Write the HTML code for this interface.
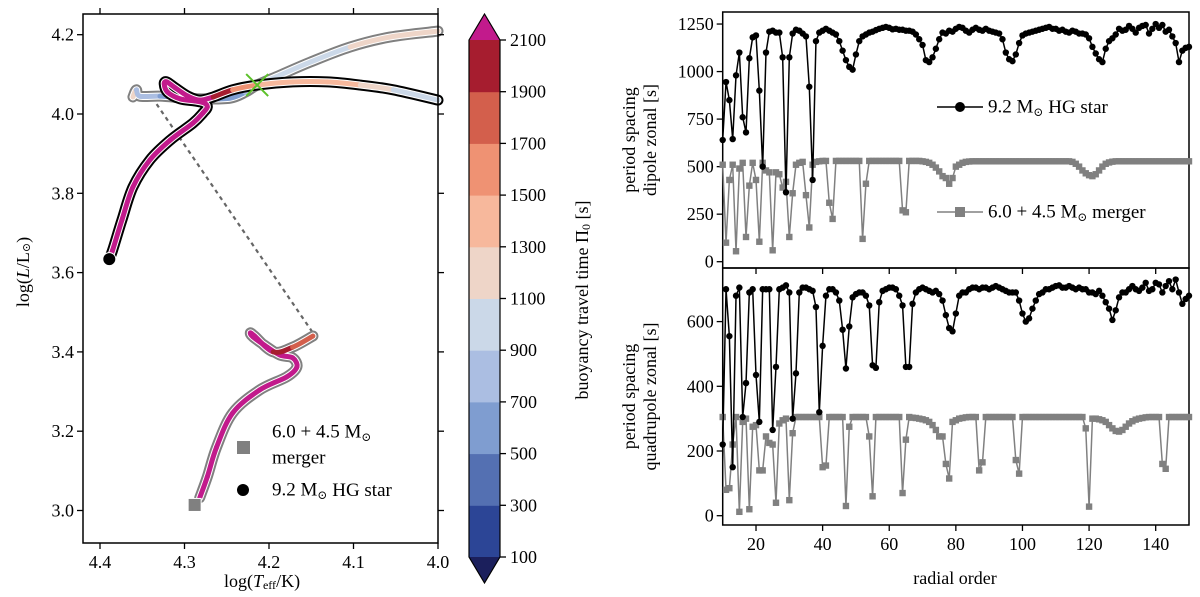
<!DOCTYPE html>
<html><head><meta charset="utf-8"><title>HR diagram and period spacings</title>
<style>
html,body{margin:0;padding:0;background:#fff;}
svg{display:block;font-family:"Liberation Serif","DejaVu Serif",serif;}
text{fill:#000;}
</style></head>
<body>
<svg id="fig" width="1200" height="597" viewBox="0 0 1200 597" xmlns="http://www.w3.org/2000/svg">
<g id="hr"></g>
<g id="cb"></g>
<g id="topPanel"></g>
<g id="botPanel"></g>
</svg>
<script>
// ---------- right panel data ----------
const radialOrderStart = 10;
const dipoleHG = [640,945,850,645,980,1100,760,680,1070,1180,
1190,900,500,1100,1210,1215,1205,1205,1075,365,
1075,1200,1220,1215,1200,1185,920,430,1160,1205,
1215,1225,1215,1205,1195,1160,1110,1060,1025,1010,
1090,1160,1185,1195,1205,1210,1218,1225,1230,1235,
1230,1222,1225,1220,1220,1215,1215,1210,1195,1170,
1140,1060,1050,1075,1120,1170,1205,1200,1215,1210,
1225,1235,1230,1215,1205,1220,1230,1220,1215,1225,
1215,1210,1205,1200,1170,1100,1065,1055,1090,1150,
1190,1200,1205,1210,1215,1220,1225,1230,1235,1225,
1225,1215,1220,1210,1205,1215,1210,1200,1200,1195,
1175,1130,1095,1065,1050,1120,1160,1175,1195,1225,
1215,1220,1240,1225,1205,1230,1240,1245,1200,1225,
1250,1230,1245,1210,1220,1185,1150,1050,1110,1125,
1130];
const dipoleMerger = [510,100,430,510,55,490,520,130,400,520,
430,105,520,480,470,60,470,460,390,420,
130,360,510,520,525,350,180,510,525,528,
530,530,310,225,530,530,530,530,530,530,
530,530,120,410,530,530,530,530,530,530,
530,530,530,530,270,260,530,530,530,530,
528,525,520,510,495,475,450,440,410,440,
500,510,520,525,527,528,528,528,528,528,
528,528,528,528,528,528,528,528,528,528,
528,528,528,528,528,528,528,528,528,528,
528,528,528,528,528,525,515,500,480,465,
455,450,460,480,500,515,522,526,528,528,
528,528,528,528,528,528,528,528,528,528,
528,528,528,528,528,528,528,528,528,528,
528];
const quadHG = [220,700,555,150,680,705,305,410,690,700,
435,290,700,700,700,265,460,700,705,712,
690,300,440,690,705,705,700,695,645,320,
525,680,700,700,690,665,575,455,585,675,
685,690,690,680,650,465,457,660,695,700,
705,705,700,680,650,460,460,655,690,700,
705,700,695,690,695,685,665,620,580,570,
625,680,690,690,700,705,705,700,705,705,
700,705,710,705,700,695,690,690,690,665,
625,600,610,640,665,685,690,700,700,705,
710,712,705,705,710,705,700,705,700,700,
690,690,685,695,680,660,640,605,635,675,
690,690,700,710,700,695,705,720,695,700,
720,715,690,710,725,700,730,690,655,670,
680];
const quadMerger = [305,80,85,220,305,12,290,300,20,275,
280,140,140,245,225,220,40,285,295,300,
48,255,305,305,305,305,305,305,305,305,
150,155,305,305,305,305,305,30,275,305,
305,305,305,305,245,60,305,305,305,305,
305,305,305,305,70,235,305,303,302,300,
298,295,290,280,265,245,245,160,115,290,
295,300,302,304,305,305,305,140,165,305,
305,305,305,305,305,305,305,305,172,130,
305,305,305,305,305,305,305,305,305,305,
305,305,305,305,305,305,305,305,305,270,
28,300,300,298,295,290,280,270,262,260,
265,275,285,292,297,300,302,304,305,305,
305,305,160,145,305,305,305,305,305,305,
305];
const xTicks = [20,40,60,80,100,120,140];
const dipoleTicks = [0,250,500,750,1000,1250];
const quadTicks = [0,200,400,600];

// ---------- HR diagram data ----------
const hgTrackT = [4.389,4.385,4.374,4.361,4.341,4.317,4.290,4.278,4.273,4.277,4.288,4.305,4.320,4.324,4.321,4.311,4.296,4.282,4.266,4.243,4.214,4.172,4.131,4.092,4.053,4.000];
const hgTrackL = [3.634,3.657,3.733,3.816,3.884,3.934,3.977,4.003,4.018,4.028,4.033,4.038,4.055,4.076,4.081,4.066,4.045,4.035,4.043,4.061,4.073,4.081,4.081,4.073,4.061,4.035];
const hgTrackPi = [2200,2200,2200,2200,2200,2200,2200,2200,2200,2200,2200,2200,2200,2200,2200,2200,2200,2200,1950,1650,1450,1350,1300,1200,1000,1000];
const mgUpperT = [4.361,4.357,4.353,4.329,4.299,4.276,4.246,4.228,4.214,4.187,4.151,4.104,4.057,4.000];
const mgUpperL = [4.043,4.061,4.045,4.045,4.040,4.038,4.040,4.055,4.073,4.098,4.131,4.169,4.194,4.209];
const mgUpperPi = [1200,800,800,550,550,550,650,800,900,1000,1000,1200,1200,1200];
const mgLowerT = [4.282,4.273,4.262,4.243,4.211,4.179,4.167,4.172,4.187,4.202,4.219,4.222,4.217,4.195,4.172,4.148];
const mgLowerL = [3.032,3.085,3.160,3.246,3.304,3.337,3.362,3.385,3.392,3.412,3.438,3.448,3.440,3.400,3.412,3.440];
const mgLowerPi = [2200,2200,2200,2200,2200,2200,2200,2200,2200,2200,2200,2200,2200,1950,1700,1500];
const hrXTicks = [4.4,4.3,4.2,4.1,4.0];
const hrYTicks = [3.0,3.2,3.4,3.6,3.8,4.0,4.2];
const cbTicks = [100,300,500,700,900,1100,1300,1500,1700,1900,2100];
const cbColors = ['#2c4596','#5470b2','#7f9dd0','#abbee2','#cbd8e8','#eed5c8','#f7b89c','#ef9273','#d35f4c','#a61d2f'];

const NS='http://www.w3.org/2000/svg';
function mk(parent, tag, attrs){const e=document.createElementNS(NS,tag);for(const k in attrs)e.setAttribute(k,attrs[k]);parent.appendChild(e);return e;}
function txt(parent, x, y, s, size, anchor){const e=mk(parent,'text',{x:x,y:y,'font-size':size,'text-anchor':anchor||'middle','dominant-baseline':'central'});e.textContent=s;return e;}
function piColor(v){ if(v>2100) return '#c21a8c'; if(v<100) return '#1b1f5c'; let i=Math.min(9,Math.floor((v-100)/200)); return cbColors[i]; }

// ---------- HR panel ----------
const hr=document.getElementById('hr');
const HX0=83, HX1=438, HY0=14, HY1=543;
const hx=t=>100+(4.4-t)*845;
const hy=l=>114-(l-4.0)*396.5;
let dl=mk(hr,'line',{x1:hx(4.333),y1:hy(4.025),x2:hx(4.148),y2:hy(3.448),stroke:'#666','stroke-width':2.2,'stroke-dasharray':'4,4'});


// smooth (Catmull-Rom) path between consecutive points
function segPath(P,i){
  const p0=P[Math.max(0,i-1)],p1=P[i],p2=P[i+1],p3=P[Math.min(P.length-1,i+2)];
  const c1=[p1[0]+(p2[0]-p0[0])/6,p1[1]+(p2[1]-p0[1])/6];
  const c2=[p2[0]-(p3[0]-p1[0])/6,p2[1]-(p3[1]-p1[1])/6];
  return `C${c1[0]},${c1[1]} ${c2[0]},${c2[1]} ${p2[0]},${p2[1]}`;
}
function track(T,L,Pi,outer,ow,name){
  const g=mk(hr,'g',{});
  
  
  const P=T.map((t,i)=>[hx(t),hy(L[i])]);
  let d='M'+P[0][0]+','+P[0][1];
  for(let i=0;i<P.length-1;i++) d+=segPath(P,i);
  mk(g,'path',{d:d,fill:'none',stroke:outer,'stroke-width':ow,'stroke-linejoin':'round','stroke-linecap':'round'});
  mk(g,'path',{d:d,fill:'none',stroke:'#fff','stroke-width':ow-4,'stroke-linejoin':'round','stroke-linecap':'round'});
  for(let i=0;i<P.length-1;i++){
    mk(g,'path',{d:'M'+P[i][0]+','+P[i][1]+segPath(P,i),fill:'none',stroke:piColor(Pi[i]),'stroke-width':ow-6,'stroke-linecap':'round'});
  }
}
track(mgUpperT,mgUpperL,mgUpperPi,'#808080',11,'merger-track-upper');
track(mgLowerT,mgLowerL,mgLowerPi,'#808080',11,'merger-track-lower');
track(hgTrackT,hgTrackL,hgTrackPi,'#000',11,'hg-star-track');
let gx=mk(hr,'g',{stroke:'#5cc12a','stroke-width':2});


mk(gx,'line',{x1:hx(4.214)-11,y1:hy(4.073)-11,x2:hx(4.214)+11,y2:hy(4.073)+11});
mk(gx,'line',{x1:hx(4.214)-11,y1:hy(4.073)+11,x2:hx(4.214)+11,y2:hy(4.073)-11});
let sd=mk(hr,'circle',{cx:hx(4.389),cy:hy(3.634),r:6.5,fill:'#000',stroke:'#fff','stroke-width':1});


let sq=mk(hr,'rect',{x:hx(4.288)-6.5,y:hy(3.014)-6.5,width:13,height:13,fill:'#808080',stroke:'#fff','stroke-width':1});


mk(hr,'rect',{x:HX0,y:HY0,width:HX1-HX0,height:HY1-HY0,fill:'none',stroke:'#000','stroke-width':1.5});
hrXTicks.forEach(t=>{
  mk(hr,'line',{x1:hx(t),y1:HY1,x2:hx(t),y2:HY1+6,stroke:'#000','stroke-width':1.3});
  mk(hr,'line',{x1:hx(t),y1:HY0,x2:hx(t),y2:HY0-6,stroke:'#000','stroke-width':1.3});
  let l=txt(hr,hx(t),HY1+19,t.toFixed(1),18);
  
  
});
hrYTicks.forEach(v=>{
  mk(hr,'line',{x1:HX0,y1:hy(v),x2:HX0-6,y2:hy(v),stroke:'#000','stroke-width':1.3});
  mk(hr,'line',{x1:HX1,y1:hy(v),x2:HX1+6,y2:hy(v),stroke:'#000','stroke-width':1.3});
  let l=txt(hr,HX0-9,hy(v),v.toFixed(1),18,'end');
  
  
});
let hxl=mk(hr,'text',{x:262,y:581,'font-size':18,'text-anchor':'middle','dominant-baseline':'central'});
hxl.innerHTML='log(<tspan font-style="italic">T</tspan><tspan font-size="12" dy="4">eff</tspan><tspan dy="-4">/K)</tspan>';


let hyl=mk(hr,'text',{x:0,y:0,'font-size':18,'text-anchor':'middle','dominant-baseline':'central',transform:'translate(23,272) rotate(-90)'});
hyl.innerHTML='log(<tspan font-style="italic">L</tspan>/L<tspan font-size="11" dy="4">⊙</tspan><tspan dy="-4">)</tspan>';


let lg=mk(hr,'g',{});


mk(lg,'rect',{x:237,y:441,width:13,height:13,fill:'#808080'});
let t1=mk(lg,'text',{x:272,y:432,'font-size':19,'dominant-baseline':'central'});
t1.innerHTML='6.0 + 4.5 M<tspan font-size="12" dy="5">⊙</tspan>';
let t2=mk(lg,'text',{x:272,y:458,'font-size':19,'dominant-baseline':'central'});
t2.textContent='merger';
mk(lg,'circle',{cx:243,cy:490,r:6,fill:'#000'});
let t3=mk(lg,'text',{x:272,y:490,'font-size':19,'dominant-baseline':'central'});
t3.innerHTML='9.2 M<tspan font-size="12" dy="5">⊙</tspan><tspan dy="-5"> HG star</tspan>';

// ---------- colorbar ----------
const cb=document.getElementById('cb');
const CX0=469, CX1=500, CT=40, CB=557;
const cy=v=>CB-(v-100)*(CB-CT)/2000;
cbColors.forEach((c,i)=>{
  let r=mk(cb,'rect',{x:CX0,y:cy(100+200*(i+1)),width:CX1-CX0,height:cy(100)-cy(300)+0.5,fill:c});
  
  
});
let tt=mk(cb,'polygon',{points:`${CX0},${CT} ${CX1},${CT} ${(CX0+CX1)/2},${CT-26}`,fill:'#c21a8c'});


let bt=mk(cb,'polygon',{points:`${CX0},${CB} ${CX1},${CB} ${(CX0+CX1)/2},${CB+26}`,fill:'#1b1f5c'});


mk(cb,'polygon',{points:`${CX0},${CT} ${(CX0+CX1)/2},${CT-26} ${CX1},${CT} ${CX1},${CB} ${(CX0+CX1)/2},${CB+26} ${CX0},${CB}`,fill:'none',stroke:'#000','stroke-width':1.2});
cbTicks.forEach(v=>{
  mk(cb,'line',{x1:CX1,y1:cy(v),x2:CX1+6,y2:cy(v),stroke:'#000','stroke-width':1.3});
  let l=txt(cb,CX1+10,cy(v),String(v),18,'start');
  
  
});
let cbl=mk(cb,'text',{x:0,y:0,'font-size':18,'text-anchor':'middle','dominant-baseline':'central',transform:'translate(582,300) rotate(-90)'});
cbl.innerHTML='buoyancy travel time Π<tspan font-size="12" dy="4">0</tspan><tspan dy="-4"> [s]</tspan>';



// ---------- right panels ----------
const RX0=722.7, RX1=1189;
const rx=n=>RX0+(n-10)*(RX1-RX0)/140;
function panel(g,pTop,pBottom,y,ticks,hg,mg,lab2,showX,name){
  mk(g,'rect',{x:RX0,y:pTop,width:RX1-RX0,height:pBottom-pTop,fill:'none',stroke:'#000','stroke-width':1.5});
  ticks.forEach(v=>{
    mk(g,'line',{x1:RX0,y1:y(v),x2:RX0-6,y2:y(v),stroke:'#000','stroke-width':1.3});
    let l=txt(g,RX0-9,y(v),String(v),18,'end');
    
    
  });
  xTicks.forEach(n=>{
    mk(g,'line',{x1:rx(n),y1:pBottom,x2:rx(n),y2:pBottom+6,stroke:'#000','stroke-width':1.3});
    if(showX){let l=txt(g,rx(n),pBottom+19,String(n),18);
      
      }
  });
  const mp=mg.map((v,i)=>rx(radialOrderStart+i)+','+y(v)).join(' ');
  let ml=mk(g,'polyline',{points:mp,fill:'none',stroke:'#808080','stroke-width':1.5});
  
  
  mg.forEach((v,i)=>{
    let s=mk(g,'rect',{x:rx(radialOrderStart+i)-3.2,y:y(v)-3.2,width:6.4,height:6.4,fill:'#808080'});
    
    
  });
  const hp=hg.map((v,i)=>rx(radialOrderStart+i)+','+y(v)).join(' ');
  let hl=mk(g,'polyline',{points:hp,fill:'none',stroke:'#000','stroke-width':1.5});
  
  
  hg.forEach((v,i)=>{
    let c=mk(g,'circle',{cx:rx(radialOrderStart+i),cy:y(v),r:3.2,fill:'#000'});
    
    
  });
  let yl=mk(g,'text',{x:0,y:0,'font-size':18,'text-anchor':'middle',transform:`translate(640,${(pTop+pBottom)/2}) rotate(-90)`});
  yl.innerHTML=`<tspan x="0" dy="-5">period spacing</tspan><tspan x="0" dy="21">${lab2}</tspan>`;
  
  
}
const topG=document.getElementById('topPanel');
const botG=document.getElementById('botPanel');
const yTop=v=>261.7-v*0.19013;
const yBot=v=>515.7-v*0.3235;
panel(topG,12,268,yTop,dipoleTicks,dipoleHG,dipoleMerger,'dipole zonal [s]',false,'dipole');
panel(botG,268,525,yBot,quadTicks,quadHG,quadMerger,'quadrupole zonal [s]',true,'quadrupole');
let rxl=txt(botG,955,578,'radial order',18);


let rl=mk(topG,'g',{});


mk(rl,'rect',{x:925,y:92,width:255,height:32,fill:'#fff'});
mk(rl,'rect',{x:925,y:197,width:255,height:30,fill:'#fff'});
mk(rl,'line',{x1:937,y1:107,x2:983,y2:107,stroke:'#000','stroke-width':1.5});
mk(rl,'circle',{cx:960,cy:107,r:5,fill:'#000'});
let r1=mk(rl,'text',{x:988,y:107,'font-size':19,'dominant-baseline':'central'});
r1.innerHTML='9.2 M<tspan font-size="12" dy="5">⊙</tspan><tspan dy="-5"> HG star</tspan>';
mk(rl,'line',{x1:937,y1:212,x2:983,y2:212,stroke:'#808080','stroke-width':1.5});
mk(rl,'rect',{x:955,y:207,width:10,height:10,fill:'#808080'});
let r2=mk(rl,'text',{x:988,y:212,'font-size':19,'dominant-baseline':'central'});
r2.innerHTML='6.0 + 4.5 M<tspan font-size="12" dy="5">⊙</tspan><tspan dy="-5"> merger</tspan>';
</script>
</body></html>
